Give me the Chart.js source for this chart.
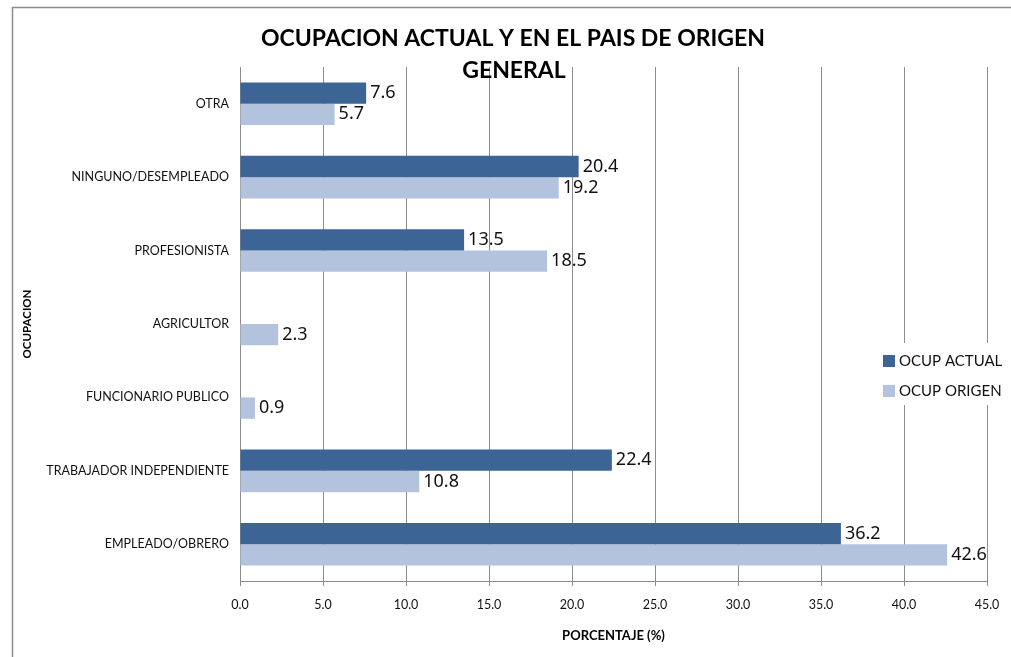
<!DOCTYPE html>
<html>
<head>
<meta charset="utf-8">
<script src="https://cdn.jsdelivr.net/npm/chart.js@4.4.1/dist/chart.umd.min.js"></script>
<style>
  html, body { margin: 0; padding: 0; background: #fff; }
  #wrap { width: 1011px; height: 657px; position: relative; }
</style>
</head>
<body>
<div id="wrap"><canvas id="chart" width="1011" height="657"></canvas></div>
<script>
const CATEGORIES = ['OTRA', 'NINGUNO/DESEMPLEADO', 'PROFESIONISTA', 'AGRICULTOR', 'FUNCIONARIO PUBLICO', 'TRABAJADOR INDEPENDIENTE', 'EMPLEADO/OBRERO'];
const OCUP_ACTUAL = [7.6, 20.4, 13.5, null, null, 22.4, 36.2];
const OCUP_ORIGEN = [5.7, 19.2, 18.5, 2.3, 0.9, 10.8, 42.6];
const SERIES_NAMES = ['OCUP ACTUAL', 'OCUP ORIGEN'];
const X_MIN = 0;
const X_MAX = 45;
const X_STEP = 5;
const TITLE_LINES = ['OCUPACION ACTUAL Y EN EL PAIS DE ORIGEN', 'GENERAL'];
const X_TITLE = 'PORCENTAJE (%)';
const Y_TITLE = 'OCUPACION';

const FONT = 'Lato, "Noto Sans", sans-serif';
const LABEL_FONT = '"Noto Sans", Lato, sans-serif';
const COLORS = ['#3c6494', '#b3c3de'];

// frame, titles, legend and value labels drawn by hand
const decorations = {
  id: 'decorations',
  beforeDraw(chart) {
    const ctx = chart.ctx;
    ctx.save();
    ctx.fillStyle = '#fff';
    ctx.fillRect(0, 0, chart.width, chart.height);
    ctx.strokeStyle = '#8c8c8c';
    ctx.lineWidth = 1.5;
    ctx.beginPath();
    ctx.moveTo(12.5, chart.height + 5);
    ctx.lineTo(12.5, 7.5);
    ctx.lineTo(chart.width + 5, 7.5);
    ctx.stroke();
    ctx.restore();
  },
  afterDraw(chart) {
    const ctx = chart.ctx;
    const area = chart.chartArea;
    ctx.save();

    // value labels
    ctx.font = '18px ' + LABEL_FONT;
    ctx.fillStyle = '#111';
    ctx.textAlign = 'left';
    ctx.textBaseline = 'middle';
    chart.data.datasets.forEach((ds, di) => {
      chart.getDatasetMeta(di).data.forEach((bar, i) => {
        const v = ds.data[i];
        if (v === null || v === undefined) return;
        ctx.fillText(v.toFixed(1), bar.x + 4, bar.y);
      });
    });

    // main title
    ctx.fillStyle = '#000';
    ctx.textAlign = 'center';
    ctx.font = 'bold 23px ' + FONT;
    ctx.fillText(TITLE_LINES[0], 513, 39);
    ctx.fillText(TITLE_LINES[1], 514, 71);

    // axis titles
    ctx.font = 'bold 13px ' + FONT;
    ctx.fillText(X_TITLE, (area.left + area.right) / 2, 636);
    ctx.font = 'bold 11.5px ' + FONT;
    ctx.save();
    ctx.translate(27, (area.top + area.bottom) / 2);
    ctx.rotate(-Math.PI / 2);
    ctx.fillText(Y_TITLE, 0, 0);
    ctx.restore();

    // legend
    ctx.fillStyle = '#fff';
    ctx.fillRect(877, 343, 131, 62);
    ctx.font = '15px ' + FONT;
    ctx.textAlign = 'left';
    SERIES_NAMES.forEach((name, i) => {
      const y = 361 + i * 30;
      ctx.fillStyle = COLORS[i];
      ctx.fillRect(883, y - 6, 12, 12);
      ctx.fillStyle = '#111';
      ctx.fillText(name, 899, y);
    });
    ctx.restore();
  }
};

new Chart(document.getElementById('chart'), {
  type: 'bar',
  data: {
    labels: CATEGORIES,
    datasets: [
      { label: SERIES_NAMES[0], data: OCUP_ACTUAL, backgroundColor: COLORS[0] },
      { label: SERIES_NAMES[1], data: OCUP_ORIGEN, backgroundColor: COLORS[1] },
    ],
  },
  options: {
    indexAxis: 'y',
    responsive: false,
    animation: false,
    layout: { padding: { top: 67, right: 24, left: 0, bottom: 0 } },
    datasets: { bar: { categoryPercentage: 0.58, barPercentage: 1.0 } },
    plugins: { legend: { display: false }, tooltip: { enabled: false }, title: { display: false } },
    scales: {
      x: {
        min: X_MIN,
        max: X_MAX,
        afterFit(scale) { scale.height = 76; },
        ticks: {
          stepSize: X_STEP,
          padding: 11,
          color: '#111',
          font: { family: FONT, size: 12.5 },
          callback: (v) => Number(v).toFixed(1),
        },
        grid: { color: '#8c8c8c', lineWidth: 1, tickLength: 5 },
        border: { color: '#8c8c8c', width: 1 },
      },
      y: {
        afterFit(scale) { scale.width = 240; },
        ticks: {
          padding: 11,
          color: '#111',
          font: { family: FONT, size: 12.5 },
        },
        grid: { display: false, drawTicks: false },
        border: { color: '#8c8c8c', width: 1 },
      },
    },
  },
  plugins: [decorations],
});
</script>
</body>
</html>
